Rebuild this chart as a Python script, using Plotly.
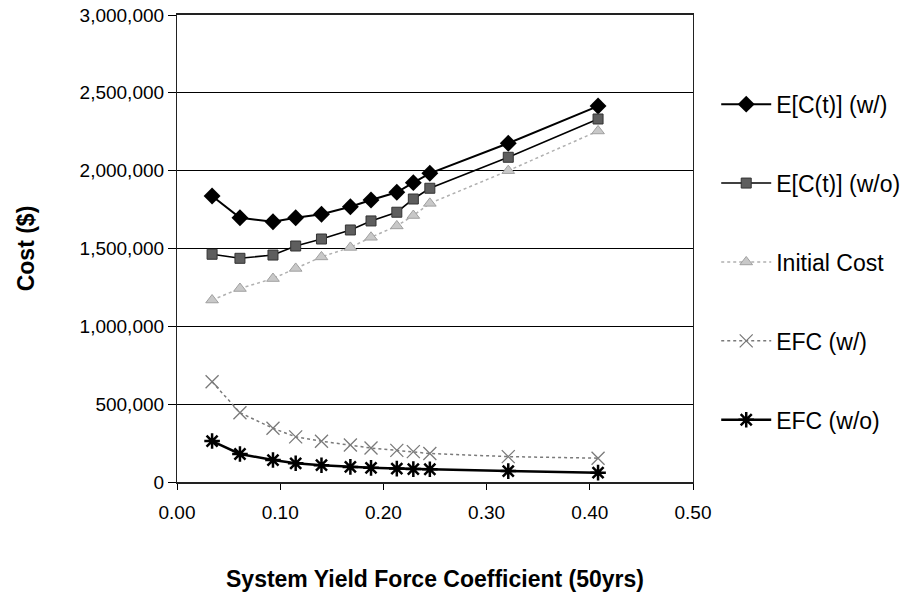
import plotly.graph_objects as go

x = [0.034, 0.061, 0.093, 0.115, 0.140, 0.168, 0.188, 0.213, 0.229, 0.245, 0.321, 0.408]

ec_w = [1837000, 1698000, 1672000, 1698000, 1720000, 1768000, 1812000, 1861000, 1923000, 1983000, 2176000, 2415000]
ec_wo = [1463000, 1437000, 1458000, 1516000, 1561000, 1619000, 1677000, 1733000, 1818000, 1887000, 2086000, 2332000]
initial = [1169000, 1243000, 1307000, 1372000, 1446000, 1507000, 1572000, 1645000, 1712000, 1790000, 2000000, 2255000]
efc_w = [644000, 445000, 345000, 290000, 262000, 238000, 218000, 203000, 195000, 183000, 163000, 153000]
efc_wo = [263000, 180000, 141000, 120000, 108000, 97000, 91000, 86000, 83000, 82000, 70000, 60000]

names = ["E[C(t)] (w/)", "E[C(t)] (w/o)", "Initial Cost", "EFC (w/)", "EFC (w/o)"]
y_ticks = [0, 500000, 1000000, 1500000, 2000000, 2500000, 3000000]
x_ticks = [0.0, 0.1, 0.2, 0.3, 0.4, 0.5]

FONT = "Liberation Sans, Arial, Helvetica, sans-serif"

fig = go.Figure()
fig.add_trace(go.Scatter(x=x, y=ec_w, name=names[0], legendgroup="a", mode="lines+markers",
                         line=dict(color="black", width=2),
                         marker=dict(symbol="diamond", size=13, color="black")))
fig.add_trace(go.Scatter(x=x, y=ec_wo, name=names[1], legendgroup="b", mode="lines+markers",
                         line=dict(color="black", width=1.6),
                         marker=dict(symbol="square", size=10, color="#5e5e5e",
                                     line=dict(color="#333", width=1))))
fig.add_trace(go.Scatter(x=x, y=initial, name=names[2], legendgroup="c", mode="lines+markers",
                         line=dict(color="#b0b0b0", width=1.5, dash="dot"),
                         marker=dict(symbol="triangle-up", size=11, color="#c8c8c8",
                                     line=dict(color="#a0a0a0", width=1))))
fig.add_trace(go.Scatter(x=x, y=efc_w, name=names[3], legendgroup="d", mode="lines+markers",
                         line=dict(color="#7a7a7a", width=1.5, dash="dot"),
                         marker=dict(symbol="x-thin-open", size=13, color="#7a7a7a",
                                     line=dict(color="#7a7a7a", width=1.3))))
fig.add_trace(go.Scatter(x=x, y=efc_wo, name=names[4], legendgroup="e", mode="lines+markers",
                         line=dict(color="black", width=2.5),
                         marker=dict(symbol="asterisk-open", size=13, color="black",
                                     line=dict(color="black", width=2.5))))

fig.update_layout(
    width=904, height=592,
    margin=dict(l=177, r=211, t=15, b=110, autoexpand=False),
    paper_bgcolor="white", plot_bgcolor="white",
    font=dict(family=FONT, color="black"),
    showlegend=True,
    legend=dict(x=1.045, y=0.855, xanchor="left", yanchor="top",
                font=dict(size=23, family=FONT, color="black"),
                tracegroupgap=46, itemwidth=50, bgcolor="rgba(0,0,0,0)"),
    xaxis=dict(range=[0, 0.5], tickvals=x_ticks, tickformat=".2f",
               showgrid=False, zeroline=False, automargin=False,
               showline=True, linecolor="#222", linewidth=1.5, mirror=True,
               ticks="outside", ticklen=6, tickcolor="black",
               ticklabelstandoff=6,
               tickfont=dict(size=19, family=FONT),
               title=dict(text="<b>System Yield Force Coefficient (50yrs)</b>",
                          font=dict(size=23, family=FONT), standoff=54)),
    yaxis=dict(range=[0, 3000000], tickvals=y_ticks, tickformat=",",
               showgrid=True, gridcolor="black", gridwidth=1.3,
               zeroline=False, automargin=False,
               showline=True, linecolor="#222", linewidth=1.2, mirror=True,
               ticks="outside", ticklen=8, tickcolor="black",
               tickfont=dict(size=19, family=FONT),
               title=dict(text="<b>Cost ($)</b>", font=dict(size=23, family=FONT), standoff=38)),
)

fig.write_html("out.html")
